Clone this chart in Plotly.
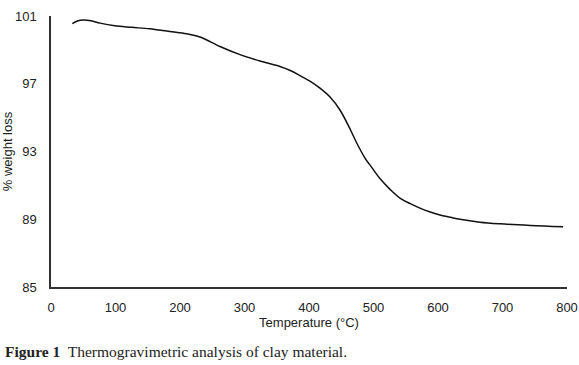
import plotly.graph_objects as go

temperature = [33, 42, 50, 62, 76, 99, 125, 153, 184, 210, 231, 262, 293, 324, 355, 371, 386, 402, 417, 433, 448, 464, 474, 487, 495, 510, 526, 541, 557, 572, 588, 603, 619, 634, 665, 696, 743, 794]
weight = [100.55, 100.72, 100.76, 100.72, 100.58, 100.42, 100.33, 100.24, 100.08, 99.95, 99.76, 99.2, 98.72, 98.34, 98.02, 97.78, 97.48, 97.14, 96.74, 96.2, 95.45, 94.3, 93.5, 92.6, 92.18, 91.4, 90.75, 90.25, 89.92, 89.66, 89.43, 89.25, 89.12, 89.0, 88.83, 88.73, 88.63, 88.55]

x_ticks = [0, 100, 200, 300, 400, 500, 600, 700, 800]
y_ticks = [85, 89, 93, 97, 101]

fig = go.Figure()
fig.add_trace(go.Scatter(
    x=temperature, y=weight, mode="lines",
    line=dict(color="#111111", width=1.5, shape="spline", smoothing=1.0),
    showlegend=False, hoverinfo="skip"))

axis_font = dict(family="Liberation Sans, Arial, sans-serif", size=13, color="#222222")

fig.update_layout(
    width=579, height=365,
    margin=dict(l=51, r=12, t=16, b=78, autoexpand=False),
    paper_bgcolor="white", plot_bgcolor="white",
    font=axis_font,
    xaxis=dict(range=[0, 800], tickvals=x_ticks, showgrid=False, zeroline=False,
               showline=True, linecolor="#333333", linewidth=1.5, ticks="",
               ticklabelstandoff=8, tickfont=axis_font, automargin=False,
               title=dict(text="Temperature (°C)", font=axis_font, standoff=2)),
    yaxis=dict(range=[85, 101], tickvals=y_ticks, showgrid=False, zeroline=False,
               showline=True, linecolor="#333333", linewidth=1.5, ticks="",
               ticklabelstandoff=10, tickfont=axis_font, automargin=False,
               title=dict(text="% weight loss", font=axis_font, standoff=2)),
    annotations=[dict(
        text="<b>Figure 1</b>  Thermogravimetric analysis of clay material.",
        xref="paper", yref="paper", x=(3 - 51) / 516, y=-64 / 271, xanchor="left", yanchor="middle",
        showarrow=False,
        font=dict(family="Liberation Serif, Times New Roman, serif", size=15.5, color="#222222"))],
)

fig.write_html("out.html", config={"displayModeBar": False},
               post_script="document.body.style.margin='0';document.body.style.overflow='hidden';")
